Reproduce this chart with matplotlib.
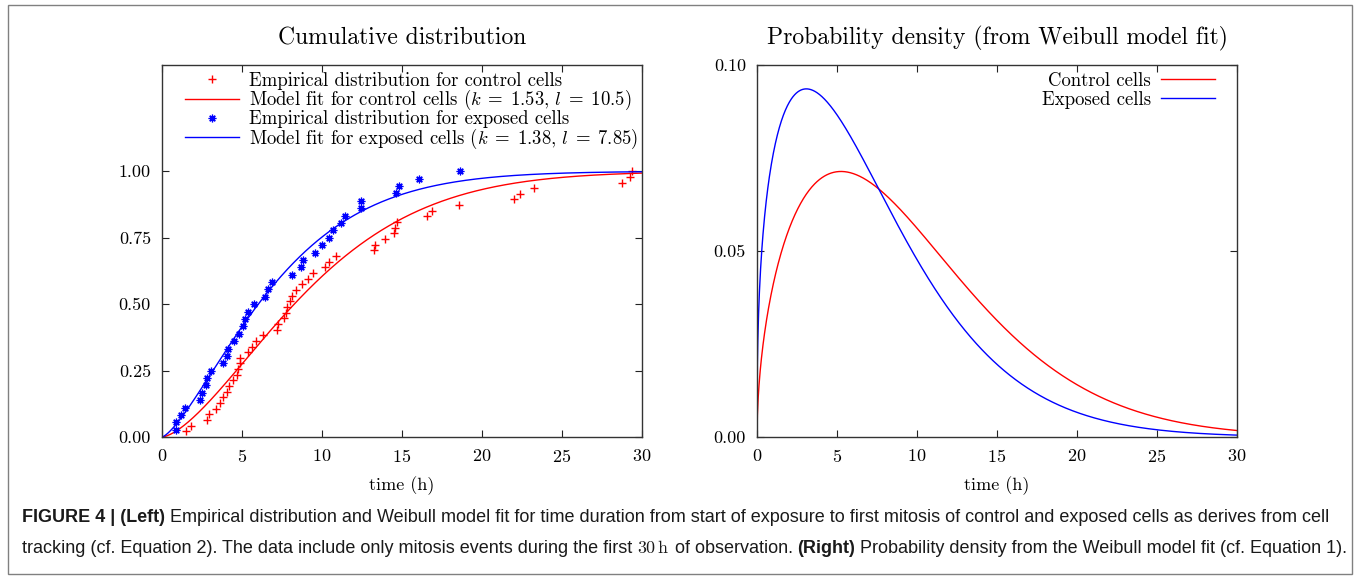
import numpy as np
import matplotlib
matplotlib.use("Agg")
import matplotlib.pyplot as plt
from matplotlib.patches import Rectangle
from matplotlib.ticker import FormatStrFormatter

# ---------------- data ----------------
control_t = [1.5, 1.79, 2.79, 2.96, 3.38, 3.63, 3.79, 4.04, 4.21, 4.42, 4.71, 4.77,
             4.88, 4.88, 5.4, 5.6, 5.9, 6.33, 7.17, 7.27, 7.63, 7.75, 7.83, 8.0,
             8.1, 8.35, 8.73, 9.1, 9.46, 10.19, 10.46, 10.88, 13.27, 13.31, 13.94,
             14.5, 14.56, 14.67, 16.54, 16.85, 18.58, 22.0, 22.38, 23.27, 28.73,
             29.25, 29.36]
control_F = [0.021, 0.043, 0.064, 0.085, 0.106, 0.128, 0.149, 0.170, 0.191, 0.213,
             0.234, 0.255, 0.277, 0.298, 0.319, 0.340, 0.362, 0.383, 0.404, 0.426,
             0.447, 0.468, 0.489, 0.511, 0.532, 0.553, 0.574, 0.596, 0.617, 0.638,
             0.660, 0.681, 0.702, 0.723, 0.745, 0.766, 0.787, 0.809, 0.830, 0.851,
             0.872, 0.894, 0.915, 0.936, 0.957, 0.979, 1.000]
exposed_t = [0.88, 0.88, 1.2, 1.45, 2.38, 2.48, 2.75, 2.8, 3.04, 3.79, 4.04, 4.15,
             4.5, 4.81, 5.08, 5.17, 5.35, 5.77, 6.44, 6.64, 6.85, 8.1, 8.69, 8.79,
             9.56, 9.98, 10.46, 10.71, 11.19, 11.44, 12.44, 12.44, 14.62, 14.81,
             16.04, 18.62]
exposed_F = [0.028, 0.056, 0.083, 0.111, 0.139, 0.167, 0.194, 0.222, 0.250, 0.278,
             0.306, 0.333, 0.361, 0.389, 0.417, 0.444, 0.472, 0.500, 0.528, 0.556,
             0.583, 0.611, 0.639, 0.667, 0.694, 0.722, 0.750, 0.778, 0.806, 0.833,
             0.861, 0.889, 0.917, 0.944, 0.972, 1.000]
control_k, control_l = 1.53, 10.5
exposed_k, exposed_l = 1.38, 7.85

x_ticks = [0, 5, 10, 15, 20, 25, 30]
left_yticks = [0.0, 0.25, 0.5, 0.75, 1.0]
right_yticks = [0.0, 0.05, 0.10]

left_title = "Cumulative distribution"
right_title = "Probability density (from Weibull model fit)"
x_label = "time (h)"

# ---------------- style ----------------
W, H = 1360, 583
plt.rcParams["font.family"] = "cmr10"
plt.rcParams["mathtext.fontset"] = "cm"
plt.rcParams["axes.formatter.use_mathtext"] = True
plt.rcParams["axes.unicode_minus"] = False

RED = "#ff0000"
BLUE = "#0000ff"

fig = plt.figure(figsize=(W / 100, H / 100), dpi=100)


def ax_rect(l, r, t, b):
    return [l / W, 1 - b / H, (r - l) / W, (b - t) / H]


axL = fig.add_axes(ax_rect(162, 642, 65, 437))
axR = fig.add_axes(ax_rect(757, 1237, 65, 437))

t_grid = np.linspace(0, 30, 1201)


def weib_cdf(t, k, l):
    return 1 - np.exp(-(t / l) ** k)


def weib_pdf(t, k, l):
    return (k / l) * (t / l) ** (k - 1) * np.exp(-(t / l) ** k)


asterisk = (8, 2, 0)

axL.plot(control_t, control_F, linestyle="none", marker="+", color=RED,
         markersize=6, markeredgewidth=1.0,
         label="Empirical distribution for control cells")
axL.plot(t_grid, weib_cdf(t_grid, control_k, control_l), color=RED, lw=1.0,
         label=r"Model fit for control cells ($k \;=\; %.2f,\, l \;=\; %.1f$)" % (control_k, control_l))
axL.plot(exposed_t, exposed_F, linestyle="none", marker=asterisk, color=BLUE,
         markersize=5.5, markeredgewidth=0.9,
         label="Empirical distribution for exposed cells")
axL.plot(t_grid, weib_cdf(t_grid, exposed_k, exposed_l), color=BLUE, lw=1.0,
         label=r"Model fit for exposed cells ($k \;=\; %.2f,\, l \;=\; %.2f$)" % (exposed_k, exposed_l))

axR.plot(t_grid, weib_pdf(t_grid, control_k, control_l), color=RED, lw=1.0,
         label="Control cells")
axR.plot(t_grid, weib_pdf(t_grid, exposed_k, exposed_l), color=BLUE, lw=1.0,
         label="Exposed cells")

axL.set_xlim(0, 30)
axL.set_ylim(0, 1.4)
axR.set_xlim(0, 30)
axR.set_ylim(0, 0.10)

for ax, yt in ((axL, left_yticks), (axR, right_yticks)):
    ax.set_xticks(x_ticks)
    ax.set_yticks(yt)
    ax.yaxis.set_major_formatter(FormatStrFormatter("%.2f"))
    ax.tick_params(direction="in", length=5, width=0.8, top=True, right=True,
                   labelsize=13, pad=8, color="#222222")
    for s in ax.spines.values():
        s.set_linewidth(1.0)
        s.set_color("#333333")
    ax.set_xlabel(x_label, fontsize=13, labelpad=8)

axL.set_title(left_title, fontsize=17, pad=15)
axR.set_title(right_title, fontsize=17, pad=15)

legL = axL.legend(loc="upper left", bbox_to_anchor=(0.048, 0.982), frameon=False,
                  fontsize=13.5, handlelength=2.9, handletextpad=0.5,
                  labelspacing=-0.09, borderpad=0, borderaxespad=0, numpoints=1)
legR = axR.legend(loc="upper right", bbox_to_anchor=(0.954, 0.982), frameon=False,
                  fontsize=13.5, handlelength=2.9, handletextpad=0.5,
                  labelspacing=0.05, borderpad=0, borderaxespad=0,
                  markerfirst=False)

# outer frame
fig.patches.append(Rectangle((8 / W, 1 - 574 / H), 1344 / W, 569 / H,
                             transform=fig.transFigure, fill=False,
                             edgecolor="#808080", lw=1.0))

# ---------------- caption ----------------
renderer = fig.canvas.get_renderer()
cap_family = ["Liberation Sans Narrow", "Liberation Sans", "DejaVu Sans"]
cap_size = 12.0
cap_color = "#1a1a1a"


def text_width(s, **kw):
    t = fig.text(0, 0, s, **kw)
    w = t.get_window_extent(renderer).width
    t.remove()
    return w


def draw_line(x_px, y_px, segments, size, keep=True):
    x = x_px
    made = []
    for s, weight, fam in segments:
        kw = dict(fontsize=size, fontweight=weight, family=fam, color=cap_color)
        lead = len(s) - len(s.lstrip(" "))
        trail = len(s) - len(s.rstrip(" "))
        core = s.strip(" ")
        sp = text_width("a a", **kw) - text_width("aa", **kw)
        x += lead * sp
        t = fig.text(x / W, 1 - y_px / H, core, va="baseline", ha="left", **kw)
        made.append(t)
        x += t.get_window_extent(renderer).width
        x += trail * sp
    if not keep:
        for t in made:
            t.remove()
    return x


line1 = [("FIGURE 4 | (Left)", "bold", cap_family),
         (" Empirical distribution and Weibull model fit for time duration from start of exposure to first mitosis of control and exposed cells as derives from cell", "normal", cap_family)]
line2 = [("tracking (cf. Equation 2). The data include only mitosis events during the first ", "normal", cap_family),
         (r"$30\,\mathrm{h}$", "normal", ["cmr10"]),
         (" of observation. ", "normal", cap_family),
         ("(Right)", "bold", cap_family),
         (" Probability density from the Weibull model fit (cf. Equation 1).", "normal", cap_family)]

# fit font size so that the caption spans the same width as in the reference
target = 1348 - 22
for _ in range(3):
    end1 = draw_line(22, -100, line1, cap_size, keep=False)
    end2 = draw_line(22, -100, line2, cap_size, keep=False)
    cap_size *= target / (max(end1, end2) - 22)

draw_line(22, 522, line1, cap_size)
draw_line(22, 553, line2, cap_size)

fig.savefig("out.png", dpi=100)
